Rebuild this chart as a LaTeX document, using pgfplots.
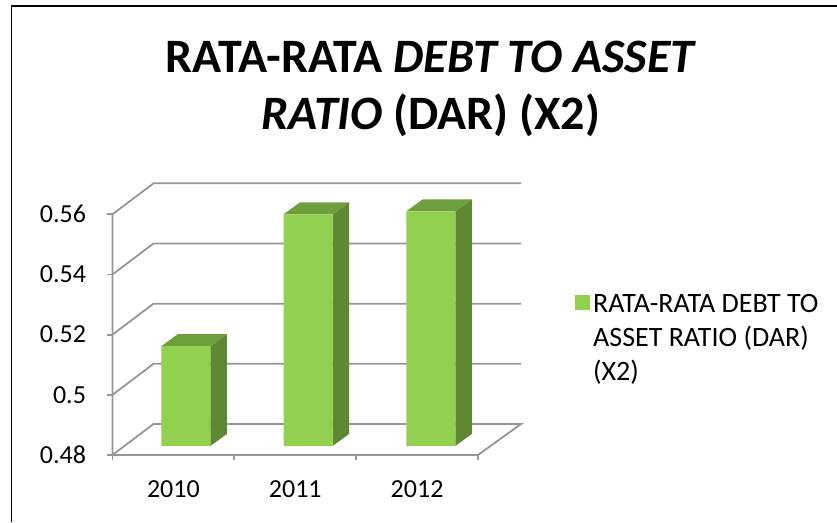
\documentclass[border=0pt]{standalone}
\usepackage{pgfplots}
\pgfplotsset{compat=1.18}
\usepackage{fontspec}
\setmainfont{Carlito}
\definecolor{barfront}{HTML}{92D050}
\definecolor{barside}{HTML}{5F8832}
\definecolor{bartop}{HTML}{6F9E3C}
\definecolor{gridc}{HTML}{969696}
\begin{document}
\begin{tikzpicture}[x=1pt,y=1pt]
\path[use as bounding box] (0,0) rectangle (837,522);
\draw[black,line width=1.8pt] (11.5,0) -- (11.5,516) -- (837,516);
\node[align=center,font=\fontsize{48}{57}\selectfont\bfseries,anchor=center] at (431,433) {RATA-RATA \textit{DEBT TO ASSET}\\\textit{RATIO} (DAR) (X2)};
% walls, floor, ticks
\begin{axis}[
  at={(112.5pt,67pt)},anchor=south west,scale only axis,width=365.5pt,height=240.7pt,
  xmin=0,xmax=3,ymin=0.48,ymax=0.56,clip=false,
  axis line style={draw=none},
  xtick={0,1,2,3},xticklabels={},
  extra x ticks={0.5,1.5,2.5},extra x tick labels={2010,2011,2012},
  extra x tick style={tick style={draw=none},xticklabel style={yshift=-17pt}},
  ytick={0.48,0.5,0.52,0.54,0.56},yticklabels={0.48,0.5,0.52,0.54,0.56},
  tick style={gridc,line width=1.8pt},
  tick align=outside,major tick length=5pt,
  xtick pos=bottom,ytick pos=left,
  tick label style={font=\fontsize{26}{30}\selectfont,black},
  y tick label style={xshift=-18pt},
  /pgf/number format/assume math mode=true,
]
\addplot[gridc,line width=1.8pt] coordinates {(0,0.56) (0,0.48) (3,0.48) (3.353,0.4903) (0.3365,0.4903) (0,0.48)};
\addplot[gridc,line width=1.8pt] coordinates {(0,0.50) (0.3365,0.5103) (3.353,0.5103)};
\addplot[gridc,line width=1.8pt] coordinates {(0,0.52) (0.3365,0.5303) (3.353,0.5303)};
\addplot[gridc,line width=1.8pt] coordinates {(0,0.54) (0.3365,0.5503) (3.353,0.5503)};
\addplot[gridc,line width=1.8pt] coordinates {(0,0.56) (0.3365,0.5703) (3.353,0.5703)};
\end{axis}
% bars, shifted by the depth of the floor
\begin{axis}[
  at={(125pt,76pt)},anchor=south west,scale only axis,width=365.5pt,height=240.7pt,
  xmin=0,xmax=3,ymin=0.48,ymax=0.56,clip=false,hide axis,
  legend style={at={(450pt,159pt)},anchor=north west,draw=none,fill=none,legend cell align=left,
    font=\fontsize{28}{34}\selectfont,inner sep=0pt,nodes={inner xsep=3pt}},
]
\addplot[fill=barside,draw=none,forget plot] coordinates {(0.7011,0.48) (0.8365,0.484) (0.8365,0.5172) (0.7011,0.5132)} --cycle;
\addplot[fill=bartop,draw=none,forget plot] coordinates {(0.2989,0.5132) (0.4343,0.5172) (0.8365,0.5172) (0.7011,0.5132)} --cycle;
\addplot[fill=barside,draw=none,forget plot] coordinates {(1.7041,0.48) (1.8395,0.484) (1.8395,0.561) (1.7041,0.557)} --cycle;
\addplot[fill=bartop,draw=none,forget plot] coordinates {(1.3019,0.557) (1.4373,0.561) (1.8395,0.561) (1.7041,0.557)} --cycle;
\addplot[fill=barside,draw=none,forget plot] coordinates {(2.7111,0.48) (2.8465,0.484) (2.8465,0.562) (2.7111,0.558)} --cycle;
\addplot[fill=bartop,draw=none,forget plot] coordinates {(2.3089,0.558) (2.4443,0.562) (2.8465,0.562) (2.7111,0.558)} --cycle;
\addplot[ybar,bar width=49pt,fill=barfront,draw=none,
  legend image code/.code={\fill[barfront] (0pt,-8pt) rectangle (15pt,7pt);}]
  coordinates {(0.5,0.5132) (1.503,0.557) (2.51,0.558)};
\addlegendentry{\begin{tabular}[t]{@{}l@{}}RATA-RATA DEBT TO\\ASSET RATIO (DAR)\\(X2)\end{tabular}}
\end{axis}
\end{tikzpicture}
\end{document}
